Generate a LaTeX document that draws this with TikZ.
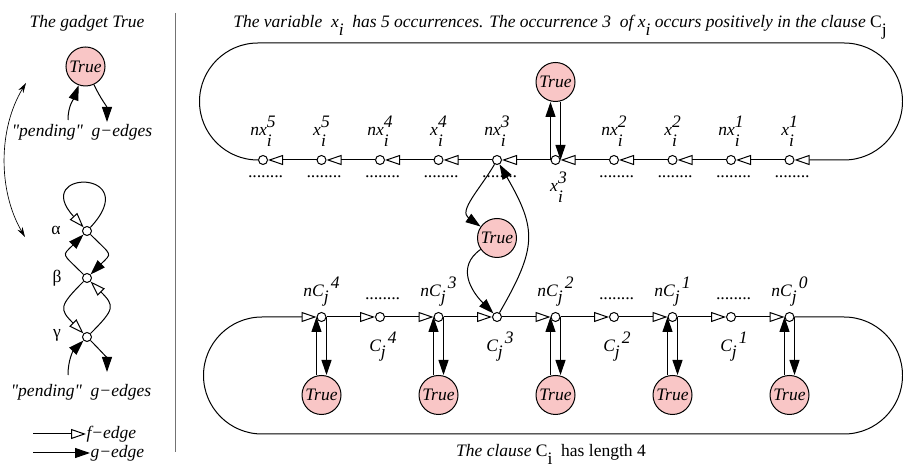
\documentclass[tikz,border=0pt]{standalone}
\usepackage{fontspec}
\setmainfont{Liberation Serif}[Ligatures=TeXOff]
\usetikzlibrary{arrows.meta,calc,positioning}
\definecolor{truepink}{RGB}{249,198,198}
% stacked sub/superscript, subscript only, superscript after subscript
\newcommand{\stk}[3]{#1\makebox[0pt][l]{\raisebox{-0.62em}{#2}}\raisebox{0.5em}{#3}}
\newcommand{\sbs}[2]{#1\raisebox{-0.45em}{#2}}
\newcommand{\spr}[3]{#1\raisebox{-0.3em}{#2}\hspace{0.12em}\raisebox{0.5em}{#3}}
\tikzset{
  vtx/.style={circle, draw, fill=white, inner sep=0pt, minimum size=5.4pt},
  truenode/.style={circle, draw, fill=truepink, inner sep=0pt, minimum size=23.4pt,
    font=\fontsize{10.5}{12}\selectfont\itshape},
  lbl/.style={inner sep=0pt, font=\fontsize{10.5}{12}\selectfont\itshape},
  fedge/.style={-{Triangle[open, length=9pt, width=6pt]}},
  gedge/.style={-{Triangle[length=9pt, width=6pt]}},
}
\begin{document}
\begin{tikzpicture}[x=0.6pt, y=0.6pt, line width=0.6pt]
\useasboundingbox (0,0) rectangle (903,469);
% left panel: the gadget True
\node[lbl, anchor=base] (gtitle) at (87,441) {The gadget True};
\node[truenode] (tg) at (85.5,402.5) {True};
\coordinate (pin1) at (68,349);
\coordinate (pout1) at (107,347);
\draw[gedge] (pin1) to[out=90,in=250] (tg);
\draw[gedge] (tg) to[out=-65,in=90] (pout1);
\node[lbl, anchor=base] (pend1) at (82,332) {"pending"\ \ g−edges};
\node[vtx] (alpha) at (87,238) {};
\node[vtx] (beta) at (87,191) {};
\node[vtx] (gamma) at (87,132) {};
\node[lbl] (la) at (56,239) {\upshape α};
\node[lbl] (lb) at (57,191) {\upshape β};
\node[lbl] (lc) at (57,134) {\upshape γ};
\draw[fedge] (alpha) .. controls (145,300) and (30,300) .. (alpha);
\draw[gedge] (beta) to[out=135,in=225,looseness=2] (alpha);
\draw[gedge] (alpha) to[out=-45,in=45,looseness=2] (beta);
\draw[fedge] (beta) to[out=225,in=135,looseness=1.7] (gamma);
\draw[fedge] (gamma) to[out=45,in=-45,looseness=1.7] (beta);
\coordinate (pin2) at (68,94);
\coordinate (pout2) at (107,97);
\draw[gedge] (pin2) to[out=90,in=225] (gamma);
\draw[gedge] (gamma) to[out=-45,in=90] (pout2);
\node[lbl, anchor=base] (pend2) at (81,72) {"pending"\ \ g−edges};
\coordinate (swapT) at (26,386);
\coordinate (swapB) at (25,232);
\draw[{Stealth[length=6pt,width=3.5pt]}-{Stealth[length=6pt,width=3.5pt]}, line width=0.4pt]
  (swapT) .. controls (-2,340) and (-2,278) .. (swapB);
% legend
\coordinate (fA) at (33,35);
\coordinate (gA) at (33,16);
\node[lbl, anchor=west] (fL) at (86,35) {f−edge};
\node[lbl, anchor=west] (gL) at (90,16) {g−edge};
\draw[fedge] (fA) -- (fL.west);
\draw[gedge] (gA) -- (gL.west);
\coordinate (sepT) at (175,456);
\coordinate (sepB) at (175,17);
\draw[black!55] (sepT) -- (sepB);

% right panel: the variable x_i
\node[lbl, anchor=base] (vtitle) at (560,441) {The variable\ \ \sbs{x}{i}\ \ has 5 occurrences. The occurrence 3\ \ of \sbs{x}{i} occurs positively in the clause \sbs{\upshape C}{j}};
\foreach \nm [count=\k from 0] in {nx5,x5,nx4,x4,nx3,x3,nx2,x2,nx1,x1}
  \node[vtx] (\nm) at (263+58.5*\k, 309) {};
\foreach \nm/\pre/\up in {nx5/nx/5, x5/x/5, nx4/nx/4, x4/x/4, nx3/nx/3, nx2/nx/2, x2/x/2, nx1/nx/1, x1/x/1} {
  \node[lbl, anchor=base] (l\nm) at ($(\nm)+(0,24)$) {\stk{\pre}{i}{\up}};
  \node[lbl, anchor=base] (d\nm) at ($(\nm)+(3,-18)$) {........};
}
\node[lbl, anchor=base] (lx3) at ($(x3)+(3,-32)$) {\stk{x}{i}{3}};
\foreach \a/\b in {x5/nx5, nx4/x5, x4/nx4, nx3/x4, x3/nx3, nx2/x3, x2/nx2, nx1/x2, x1/nx1}
  \draw[fedge] (\a) -- (\b);
\coordinate (topR) at (844,426);
\draw[fedge] (nx5.west) arc[start angle=270, end angle=90, radius=58.5]
  -- (topR) arc[start angle=90, end angle=-90, radius=58.5] -- (x1);
\node[truenode] (tx) at (555.5,387) {True};
\draw[gedge] (x3.west) -- (tx.south -| x3.west);
\draw[gedge] (tx.south -| x3.east) -- (x3.east);

% the clause C_j
\foreach \nm [count=\k from 1] in {nC4,C4,nC3,C3,nC2,C2,nC1,C1,nC0}
  \node[vtx] (\nm) at (263+58.5*\k, 152) {};
\foreach \k in {4,3,2,1,0} {
  \node[lbl, anchor=base] (lnC\k) at ($(nC\k)+(0,20)$) {\spr{nC}{j}{\k}};
  \node[truenode] (tC\k) at ($(nC\k)+(0,-78)$) {True};
  \draw[gedge] (tC\k.north -| nC\k.west) -- (nC\k.west);
  \draw[gedge] (nC\k.east) -- (tC\k.north -| nC\k.east);
}
\foreach \k in {4,3,2,1}
  \node[lbl, anchor=base] (lC\k) at ($(C\k)+(3,-35)$) {\spr{C}{j}{\k}};
\foreach \k in {4,2,1}
  \node[lbl, anchor=base] (dC\k) at ($(C\k)+(3,17)$) {........};
\foreach \a/\b in {nC4/C4, C4/nC3, nC3/C3, C3/nC2, nC2/C2, C2/nC1, nC1/C1, C1/nC0}
  \draw[fedge] (\a) -- (\b);
\coordinate (botL) at (262,35);
\draw[fedge] (nC0) -- (844,152) arc[start angle=90, end angle=-90, radius=58.5]
  -- (botL) arc[start angle=270, end angle=90, radius=58.5] -- (nC4);
\node[truenode] (tm) at (497,231) {True};
\draw[gedge] (nx3) to[out=240,in=145,looseness=1.1] (tm);
\draw[gedge] (tm) to[out=215,in=135,looseness=1.2] (C3);
\draw[gedge] (C3) to[out=60,in=-60,looseness=1.3] (nx3);
\node[lbl, anchor=base] (ctitle) at (551,12) {The clause \sbs{\upshape C}{i}\ \ has length 4};
\end{tikzpicture}
\end{document}
